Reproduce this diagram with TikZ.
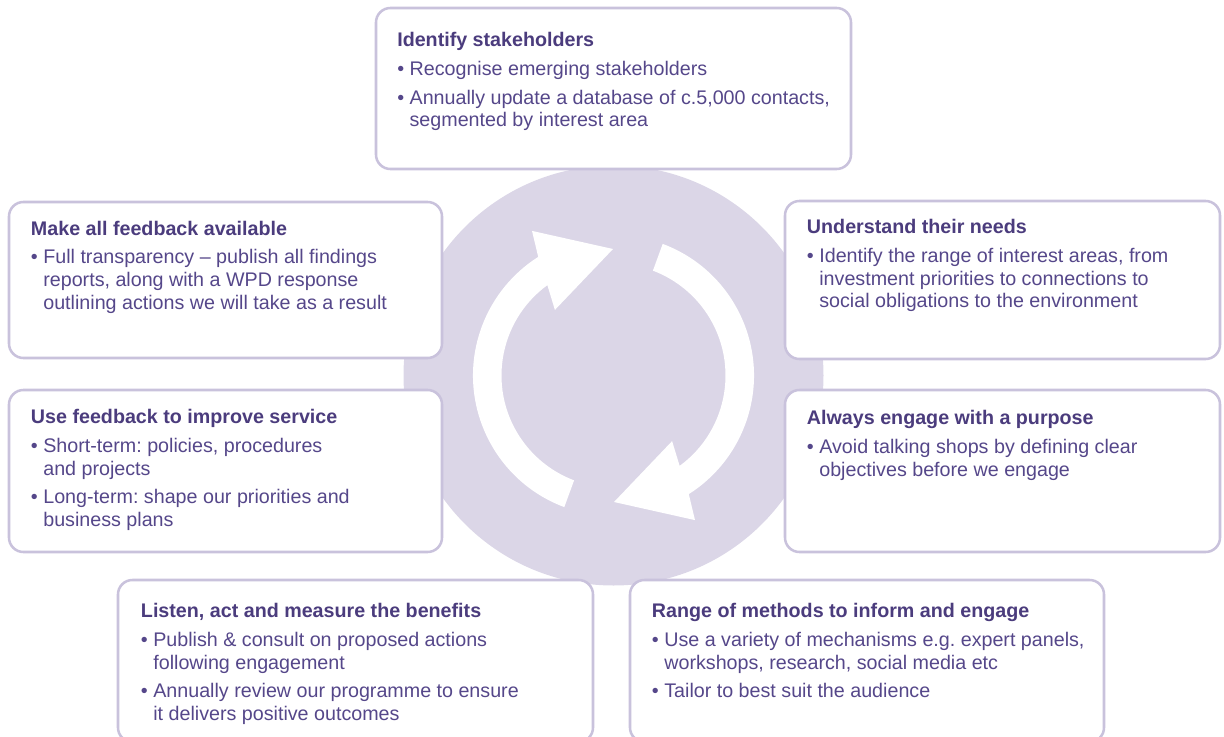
\documentclass[tikz,border=0pt]{standalone}
\usepackage{fontspec}
\setmainfont{Liberation Sans}
\usetikzlibrary{fit}

\definecolor{ink}{HTML}{55478A}
\definecolor{head}{HTML}{4B3C7D}
\definecolor{frame}{HTML}{C9C2DC}
\definecolor{disc}{HTML}{DBD6E7}

% bullet and hanging continuation
\newcommand\bitem{\textbullet\ }
\newcommand\bcont{\hphantom{\textbullet\ }}
% heading followed by bullet lines, first baseline = node base
\newcommand\panelbody[2]{\parbox[t]{11.6cm}{\raggedright\frenchspacing
  \fontsize{14pt}{16.2pt}\selectfont
  \leavevmode{\bfseries\color{head}#1}\\[4.4pt]#2}}

\tikzset{
  panel/.style={draw=frame, line width=1.8pt, fill=white, rounded corners=0.36cm, inner sep=0pt},
  paneltext/.style={anchor=base west, inner sep=0pt, text=ink},
}

\begin{document}
\begin{tikzpicture}[x=0.025cm, y=-0.025cm]
\useasboundingbox (0,0) rectangle (1224,737);

% central disc
\fill[disc] (613.5,375.5) circle[radius=210];

% two circulating arrows
\begin{scope}[shift={(613.5,375.5)}, yscale=-1]
  \foreach \r in {0,180}{
    \fill[white, rotate=\r]
      (249.5:140.5) arc[start angle=249.5, end angle=122.4, radius=140.5]
      -- (-81.5,144.6) -- (-0.5,126.5) -- (-58.6,65.6)
      -- (126.2:112) arc[start angle=126.2, end angle=249.4, radius=112] -- cycle;
  }
\end{scope}

% panels
\node[panel, fit={(376,8) (851,169)}]    (identify) {};
\node[panel, fit={(9,202) (442,358)}]    (available) {};
\node[panel, fit={(785,201) (1220,359)}] (needs) {};
\node[panel, fit={(9,390) (442,552)}]    (improve) {};
\node[panel, fit={(785,390) (1220,552)}] (purpose) {};
\node[panel, fit={(118,580) (593,742)}]  (listen) {};
\node[panel, fit={(630,580) (1104,742)}] (methods) {};

% panel texts
\node[paneltext] (identify-t) at (397,46.7) {\panelbody{Identify stakeholders}{%
  \bitem Recognise emerging stakeholders\\[4pt]
  \bitem Annually update a database of c.5,000 contacts,\\
  \bcont segmented by interest area}};

\node[paneltext] (available-t) at (30.7,235) {\panelbody{Make all feedback available}{%
  \bitem Full transparency -- publish all findings\\
  \bcont reports, along with a WPD response\\
  \bcont outlining actions we will take as a result}};

\node[paneltext] (needs-t) at (806.7,233.3) {\panelbody{Understand their needs}{%
  \bitem Identify the range of interest areas, from\\
  \bcont investment priorities to connections to\\
  \bcont social obligations to the environment}};

\node[paneltext] (improve-t) at (30.7,423.3) {\panelbody{Use feedback to improve service}{%
  \bitem Short-term: policies, procedures\\
  \bcont and projects\\[4pt]
  \bitem Long-term: shape our priorities and\\
  \bcont business plans}};

\node[paneltext] (purpose-t) at (806.7,424.3) {\panelbody{Always engage with a purpose}{%
  \bitem Avoid talking shops by defining clear\\
  \bcont objectives before we engage}};

\node[paneltext] (listen-t) at (140.7,617.7) {\panelbody{Listen, act and measure the benefits}{%
  \bitem Publish \& consult on proposed actions\\
  \bcont following engagement\\[4pt]
  \bitem Annually review our programme to ensure\\
  \bcont it delivers positive outcomes}};

\node[paneltext] (methods-t) at (651.7,617.7) {\panelbody{Range of methods to inform and engage}{%
  \bitem Use a variety of mechanisms e.g. expert panels,\\
  \bcont workshops, research, social media etc\\[4pt]
  \bitem Tailor to best suit the audience}};
\end{tikzpicture}
\end{document}
